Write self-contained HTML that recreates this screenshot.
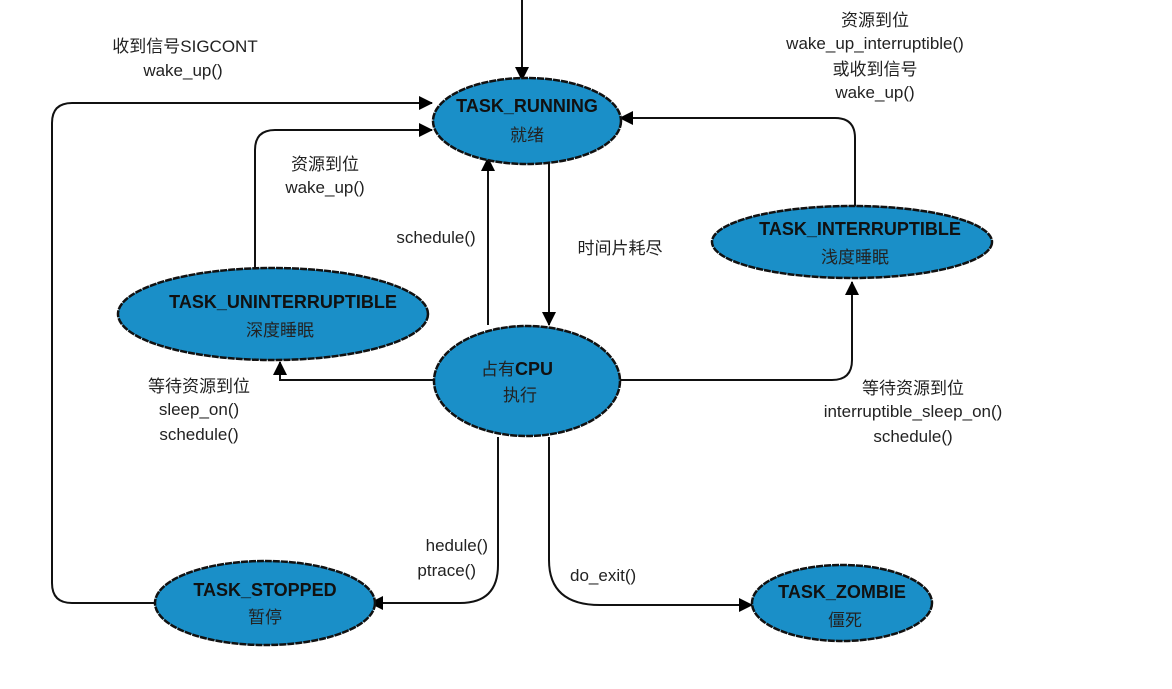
<!DOCTYPE html>
<html><head><meta charset="utf-8"><style>
html,body{margin:0;padding:0;background:#fff;}
svg text{font-family:"Liberation Sans","Noto Sans CJK SC",sans-serif;font-size:17px;fill:#222;}
.b{font-weight:bold;font-size:18px;fill:#111;}
</style></head><body>
<svg width="1172" height="684" viewBox="0 0 1172 684" xmlns="http://www.w3.org/2000/svg">
<defs><marker id="a" markerWidth="14" markerHeight="14" refX="13" refY="7" orient="auto" markerUnits="userSpaceOnUse"><path d="M0,0 L14,7 L0,14 z" fill="#000"/></marker></defs>
<g fill="none" stroke="#111" stroke-width="2" marker-end="url(#a)">
<path d="M522,0 V80"/>
<path d="M155,603 H72 Q52,603 52,583 V123 Q52,103 72,103 H432"/>
<path d="M255,268 V150 Q255,130 275,130 H432"/>
<path d="M488,325 V158"/>
<path d="M549,160 V325"/>
<path d="M433,380 H280 V362"/>
<path d="M620,380 H832 Q852,380 852,360 V282"/>
<path d="M855,207 V138 Q855,118 835,118 H620"/>
<path d="M498,437 V565 Q498,603 460,603 H370"/>
<path d="M549,437 V560 Q549,605 600,605 H752"/>
</g>
<g fill="#1a8fc8" stroke="#111" stroke-width="2.5" stroke-dasharray="7 1">
<ellipse cx="527" cy="121" rx="94" ry="43"/>
<ellipse cx="852" cy="242" rx="140" ry="36"/>
<ellipse cx="273" cy="314" rx="155" ry="46"/>
<ellipse cx="527" cy="381" rx="93" ry="55"/>
<ellipse cx="265" cy="603" rx="110" ry="42"/>
<ellipse cx="842" cy="603" rx="90" ry="38"/>
</g>
<text class="b" x="527" y="112" text-anchor="middle">TASK_RUNNING</text>
<text x="527" y="141" text-anchor="middle">就绪</text>
<text class="b" x="860" y="235" text-anchor="middle">TASK_INTERRUPTIBLE</text>
<text x="855" y="263" text-anchor="middle">浅度睡眠</text>
<text class="b" x="283" y="308" text-anchor="middle">TASK_UNINTERRUPTIBLE</text>
<text x="280" y="336" text-anchor="middle">深度睡眠</text>
<text x="517" y="375" text-anchor="middle">占有<tspan class="b">CPU</tspan></text>
<text x="520" y="401" text-anchor="middle">执行</text>
<text class="b" x="265" y="596" text-anchor="middle">TASK_STOPPED</text>
<text x="265" y="623" text-anchor="middle">暂停</text>
<text class="b" x="842" y="598" text-anchor="middle">TASK_ZOMBIE</text>
<text x="845" y="626" text-anchor="middle">僵死</text>
<text x="185" y="52" text-anchor="middle">收到信号SIGCONT</text>
<text x="183" y="76" text-anchor="middle">wake_up()</text>
<text x="875" y="26" text-anchor="middle">资源到位</text>
<text x="875" y="49" text-anchor="middle">wake_up_interruptible()</text>
<text x="875" y="75" text-anchor="middle">或收到信号</text>
<text x="875" y="98" text-anchor="middle">wake_up()</text>
<text x="325" y="170" text-anchor="middle">资源到位</text>
<text x="325" y="193" text-anchor="middle">wake_up()</text>
<text x="436" y="243" text-anchor="middle">schedule()</text>
<text x="620" y="254" text-anchor="middle">时间片耗尽</text>
<text x="199" y="392" text-anchor="middle">等待资源到位</text>
<text x="199" y="415" text-anchor="middle">sleep_on()</text>
<text x="199" y="440" text-anchor="middle">schedule()</text>
<text x="913" y="394" text-anchor="middle">等待资源到位</text>
<text x="913" y="417" text-anchor="middle">interruptible_sleep_on()</text>
<text x="913" y="442" text-anchor="middle">schedule()</text>
<text x="488" y="551" text-anchor="end">hedule()</text>
<text x="476" y="576" text-anchor="end">ptrace()</text>
<text x="570" y="581">do_exit()</text>
</svg>
</body></html>
